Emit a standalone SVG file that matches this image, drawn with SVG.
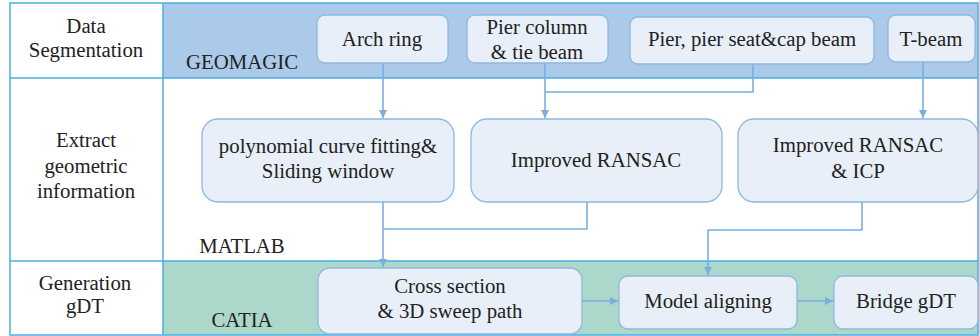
<svg xmlns="http://www.w3.org/2000/svg" width="979" height="336" viewBox="0 0 979 336">
<defs>
<style>
text{font-size:20.8px;fill:#222;text-anchor:middle}
.node rect{fill:#e8eff8;stroke:#8fb8e0;stroke-width:1.3}
.grid{fill:none;stroke:#4aaee3;stroke-width:1.5}
.conn{fill:none;stroke:#78aee0;stroke-width:1.6}
</style>
<marker id="ah" markerWidth="10" markerHeight="10" refX="9" refY="5" orient="auto" markerUnits="userSpaceOnUse">
<path d="M1,1 L9,5 L1,9 Z" fill="#78aee0"/>
</marker>
</defs>
<g font-family="'Liberation Serif', 'DejaVu Serif', serif">
<rect x="0" y="0" width="979" height="336" fill="#fff"/>
<rect x="163" y="3" width="815" height="75" fill="#abc9e8"/>
<rect x="163" y="261" width="815" height="74" fill="#acd8cb"/>
<g id="table">
<rect class="grid" x="10" y="3" width="968" height="332"/>
<line class="grid" x1="163" y1="3" x2="163" y2="335"/>
<line class="grid" x1="10" y1="78" x2="978" y2="78"/>
<line class="grid" x1="10" y1="261" x2="978" y2="261"/>
</g>
<g id="labels">
<text x="86" y="33">Data</text>
<text x="86" y="57">Segmentation</text>
<text x="86" y="147">Extract</text>
<text x="86" y="173">geometric</text>
<text x="86" y="198">information</text>
<text x="85" y="290">Generation</text>
<text x="85" y="313">gDT</text>
<text x="242" y="69">GEOMAGIC</text>
<text x="242" y="253">MATLAB</text>
<text x="242" y="327">CATIA</text>
</g>
<g id="connectors">
<path class="conn" d="M383,63 V118" marker-end="url(#ah)"/>
<path class="conn" d="M545,63 V118" marker-end="url(#ah)"/>
<path class="conn" d="M753,64 V92 H545"/>
<path class="conn" d="M923,62 V118" marker-end="url(#ah)"/>
<path class="conn" d="M383,202 V267" marker-end="url(#ah)"/>
<path class="conn" d="M587,202 V229 H383"/>
<path class="conn" d="M862,202 V230 H708 V275" marker-end="url(#ah)"/>
<path class="conn" d="M582,301 H618" marker-end="url(#ah)"/>
<path class="conn" d="M797,301 H833" marker-end="url(#ah)"/>
</g>
<g id="arch-ring" class="node"><rect x="317" y="15" width="131" height="48" rx="8"/><text x="382" y="46">Arch ring</text></g>
<g id="pier-column" class="node"><rect x="467" y="15" width="141" height="48" rx="8"/><text x="537" y="34">Pier column</text><text x="537" y="59">&amp; tie beam</text></g>
<g id="pier-seat" class="node"><rect x="630" y="17" width="244" height="47" rx="8"/><text x="752" y="46">Pier, pier seat&amp;cap beam</text></g>
<g id="t-beam" class="node"><rect x="888" y="15" width="87" height="47" rx="8"/><text x="931" y="46">T-beam</text></g>
<g id="poly" class="node"><rect x="202" y="119" width="252" height="83" rx="16"/><text x="328" y="153">polynomial curve fitting&amp;</text><text x="328" y="178">Sliding window</text></g>
<g id="ransac" class="node"><rect x="471" y="119" width="251" height="83" rx="16"/><text x="596" y="167">Improved RANSAC</text></g>
<g id="ransac-icp" class="node"><rect x="738" y="119" width="240" height="83" rx="16"/><text x="858" y="152">Improved RANSAC</text><text x="858" y="178">&amp; ICP</text></g>
<g id="cross-section" class="node"><rect x="318" y="268" width="264" height="66" rx="12"/><text x="450" y="293">Cross section</text><text x="450" y="318">&amp; 3D sweep path</text></g>
<g id="model-aligning" class="node"><rect x="619" y="276" width="178" height="53" rx="9"/><text x="708" y="308">Model aligning</text></g>
<g id="bridge-gdt" class="node"><rect x="834" y="276" width="144" height="53" rx="9"/><text x="906" y="308">Bridge gDT</text></g>
</g>
</svg>
